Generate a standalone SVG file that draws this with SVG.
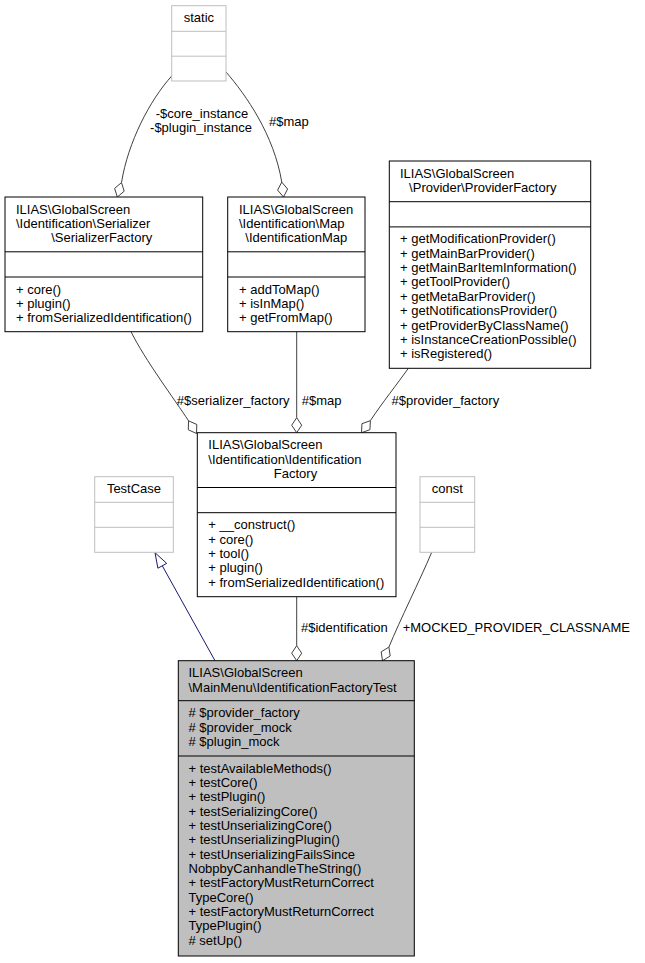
<svg xmlns="http://www.w3.org/2000/svg" width="645" height="963" viewBox="0 0 645 963">
<style>
.t{font-family:"Liberation Sans",Arial,Helvetica,sans-serif;font-size:13px;fill:#000}
.m{text-anchor:middle}
.e2{text-anchor:end}
.box{fill:#fff;stroke:#000;stroke-width:1}
.gbox{fill:#fff;stroke:#bfbfbf;stroke-width:1}
.main{fill:#bfbfbf;stroke:#000;stroke-width:1}
.ln{stroke:#000;stroke-width:1}
.gln{stroke:#bfbfbf;stroke-width:1}
.e{fill:none;stroke:#404040;stroke-width:1}
.dia{fill:#fff;stroke:#404040;stroke-width:1}
.inh{fill:none;stroke:#191970;stroke-width:1}
.tri{fill:#fff;stroke:#191970;stroke-width:1}
</style>
<rect width="645" height="963" fill="#fff"/>

<g id="connectors">
  <!-- static -> SerializerFactory -->
  <path class="e" d="M171.7,76 C150,100 128,142 121.5,182.6"/>
  <polygon class="dia" points="117.3,197 124.2,191.2 121.5,182.6 114.6,188.4"/>
  <!-- static -> IdentificationMap -->
  <path class="e" d="M226,72 C246,95 274,135 281.75,182.1"/>
  <polygon class="dia" points="283.5,197 287.6,189 281.75,182.1 277.6,190.1"/>
  <!-- SerializerFactory -> IdentificationFactory -->
  <path class="e" d="M131,331.7 C145,360 175,400 188.55,420.8"/>
  <polygon class="dia" points="196.5,433.5 196.8,424.5 188.55,420.8 188.3,429.8"/>
  <!-- IdentificationMap -> IdentificationFactory -->
  <path class="e" d="M296.7,331.7 V417.7"/>
  <polygon class="dia" points="296.7,432.7 301.7,425.2 296.7,417.7 291.7,425.2"/>
  <!-- ProviderFactory -> IdentificationFactory -->
  <path class="e" d="M408.3,368.3 C398,383 382,403 370.4,420.65"/>
  <polygon class="dia" points="361.5,432.7 369.95,429.7 370.4,420.65 361.95,423.7"/>
  <!-- IdentificationFactory -> Test -->
  <path class="e" d="M296.7,596.7 V645.7"/>
  <polygon class="dia" points="296.7,660.7 301.7,653.2 296.7,645.7 291.7,653.2"/>
  <!-- const -> Test -->
  <path class="e" d="M431.7,552.3 C420,580 400,620 388.9,647.1"/>
  <polygon class="dia" points="382.5,660.7 390.2,656 388.9,647.1 381.2,651.8"/>
  <!-- Test -> TestCase (inheritance) -->
  <path class="inh" d="M215,660.7 L162.3,565.8"/>
  <polygon class="tri" points="155,552.7 166.7,563.4 157.9,568.2"/>

  <text class="t m" x="202" y="117.5">-$core_instance</text>
  <text class="t m" x="201" y="131.5">-$plugin_instance</text>
  <text class="t" x="269" y="125.8">#$map</text>
  <text class="t e2" x="289.5" y="405">#$serializer_factory</text>
  <text class="t" x="301.7" y="405">#$map</text>
  <text class="t" x="391.5" y="405">#$provider_factory</text>
  <text class="t" x="301" y="632">#$identification</text>
  <text class="t" x="402.7" y="631.5">+MOCKED_PROVIDER_CLASSNAME</text>
</g>

<g id="node-static">
  <rect class="gbox" x="171.7" y="5.7" width="54.3" height="75.3"/>
  <line class="gln" x1="171.7" y1="31.3" x2="226" y2="31.3"/>
  <line class="gln" x1="171.7" y1="56.2" x2="226" y2="56.2"/>
  <text class="t m" x="198.9" y="22">static</text>
</g>

<g id="node-serializerfactory">
  <rect class="box" x="5" y="197" width="197.7" height="134.7"/>
  <line class="ln" x1="5" y1="251.8" x2="202.7" y2="251.8"/>
  <line class="ln" x1="5" y1="277" x2="202.7" y2="277"/>
  <text class="t" x="16" y="213.5">ILIAS\GlobalScreen</text>
  <text class="t" x="16" y="227.85">\Identification\Serializer</text>
  <text class="t m" x="101.7" y="242.2">\SerializerFactory</text>
  <text class="t" x="16" y="293.5">+ core()</text>
  <text class="t" x="16" y="307.85">+ plugin()</text>
  <text class="t" x="16" y="322.2">+ fromSerializedIdentification()</text>
</g>

<g id="node-identificationmap">
  <rect class="box" x="227.7" y="197" width="137.3" height="134.7"/>
  <line class="ln" x1="227.7" y1="251.8" x2="365" y2="251.8"/>
  <line class="ln" x1="227.7" y1="277" x2="365" y2="277"/>
  <text class="t" x="239" y="213.5">ILIAS\GlobalScreen</text>
  <text class="t" x="239" y="227.85">\Identification\Map</text>
  <text class="t m" x="296.3" y="242.2">\IdentificationMap</text>
  <text class="t" x="239" y="293.5">+ addToMap()</text>
  <text class="t" x="239" y="307.85">+ isInMap()</text>
  <text class="t" x="239" y="322.2">+ getFromMap()</text>
</g>

<g id="node-providerfactory">
  <rect class="box" x="389.3" y="161" width="201.4" height="207.3"/>
  <line class="ln" x1="389.3" y1="201.7" x2="590.7" y2="201.7"/>
  <line class="ln" x1="389.3" y1="226.9" x2="590.7" y2="226.9"/>
  <text class="t" x="400" y="177.5">ILIAS\GlobalScreen</text>
  <text class="t m" x="482.8" y="191.85">\Provider\ProviderFactory</text>
  <text class="t" x="400" y="243.4">+ getModificationProvider()</text>
  <text class="t" x="400" y="257.75">+ getMainBarProvider()</text>
  <text class="t" x="400" y="272.1">+ getMainBarItemInformation()</text>
  <text class="t" x="400" y="286.45">+ getToolProvider()</text>
  <text class="t" x="400" y="300.8">+ getMetaBarProvider()</text>
  <text class="t" x="400" y="315.15">+ getNotificationsProvider()</text>
  <text class="t" x="400" y="329.5">+ getProviderByClassName()</text>
  <text class="t" x="400" y="343.85">+ isInstanceCreationPossible()</text>
  <text class="t" x="400" y="358.2">+ isRegistered()</text>
</g>

<g id="node-identificationfactory">
  <rect class="box" x="197.3" y="432.7" width="198.7" height="164"/>
  <line class="ln" x1="197.3" y1="487.5" x2="396" y2="487.5"/>
  <line class="ln" x1="197.3" y1="512.7" x2="396" y2="512.7"/>
  <text class="t" x="208.3" y="449.2">ILIAS\GlobalScreen</text>
  <text class="t" x="208.3" y="463.55">\Identification\Identification</text>
  <text class="t m" x="295.5" y="477.9">Factory</text>
  <text class="t" x="208.3" y="529.2">+ __construct()</text>
  <text class="t" x="208.3" y="543.55">+ core()</text>
  <text class="t" x="208.3" y="557.9">+ tool()</text>
  <text class="t" x="208.3" y="572.25">+ plugin()</text>
  <text class="t" x="208.3" y="586.6">+ fromSerializedIdentification()</text>
</g>

<g id="node-testcase">
  <rect class="gbox" x="94.7" y="476.7" width="78.6" height="75.6"/>
  <line class="gln" x1="94.7" y1="502.3" x2="173.3" y2="502.3"/>
  <line class="gln" x1="94.7" y1="527.3" x2="173.3" y2="527.3"/>
  <text class="t m" x="134" y="493.2">TestCase</text>
</g>

<g id="node-const">
  <rect class="gbox" x="420" y="476.7" width="54.7" height="75.6"/>
  <line class="gln" x1="420" y1="502.3" x2="474.7" y2="502.3"/>
  <line class="gln" x1="420" y1="527.3" x2="474.7" y2="527.3"/>
  <text class="t m" x="447.3" y="493.2">const</text>
</g>

<g id="node-identificationfactorytest">
  <rect class="main" x="178.3" y="660.7" width="236" height="295.3"/>
  <line class="ln" x1="178.3" y1="700.7" x2="414.3" y2="700.7"/>
  <line class="ln" x1="178.3" y1="756" x2="414.3" y2="756"/>
  <text class="t" x="188.5" y="677.2">ILIAS\GlobalScreen</text>
  <text class="t" x="188.5" y="691.55">\MainMenu\IdentificationFactoryTest</text>
  <text class="t" x="188.5" y="717.2"># $provider_factory</text>
  <text class="t" x="188.5" y="731.55"># $provider_mock</text>
  <text class="t" x="188.5" y="745.9"># $plugin_mock</text>
  <text class="t" x="188.5" y="772.5">+ testAvailableMethods()</text>
  <text class="t" x="188.5" y="786.85">+ testCore()</text>
  <text class="t" x="188.5" y="801.2">+ testPlugin()</text>
  <text class="t" x="188.5" y="815.55">+ testSerializingCore()</text>
  <text class="t" x="188.5" y="829.9">+ testUnserializingCore()</text>
  <text class="t" x="188.5" y="844.25">+ testUnserializingPlugin()</text>
  <text class="t" x="188.5" y="858.6">+ testUnserializingFailsSince</text>
  <text class="t" x="188.5" y="872.95">NobpbyCanhandleTheString()</text>
  <text class="t" x="188.5" y="887.3">+ testFactoryMustReturnCorrect</text>
  <text class="t" x="188.5" y="901.65">TypeCore()</text>
  <text class="t" x="188.5" y="916">+ testFactoryMustReturnCorrect</text>
  <text class="t" x="188.5" y="930.35">TypePlugin()</text>
  <text class="t" x="188.5" y="944.7"># setUp()</text>
</g>
</svg>
